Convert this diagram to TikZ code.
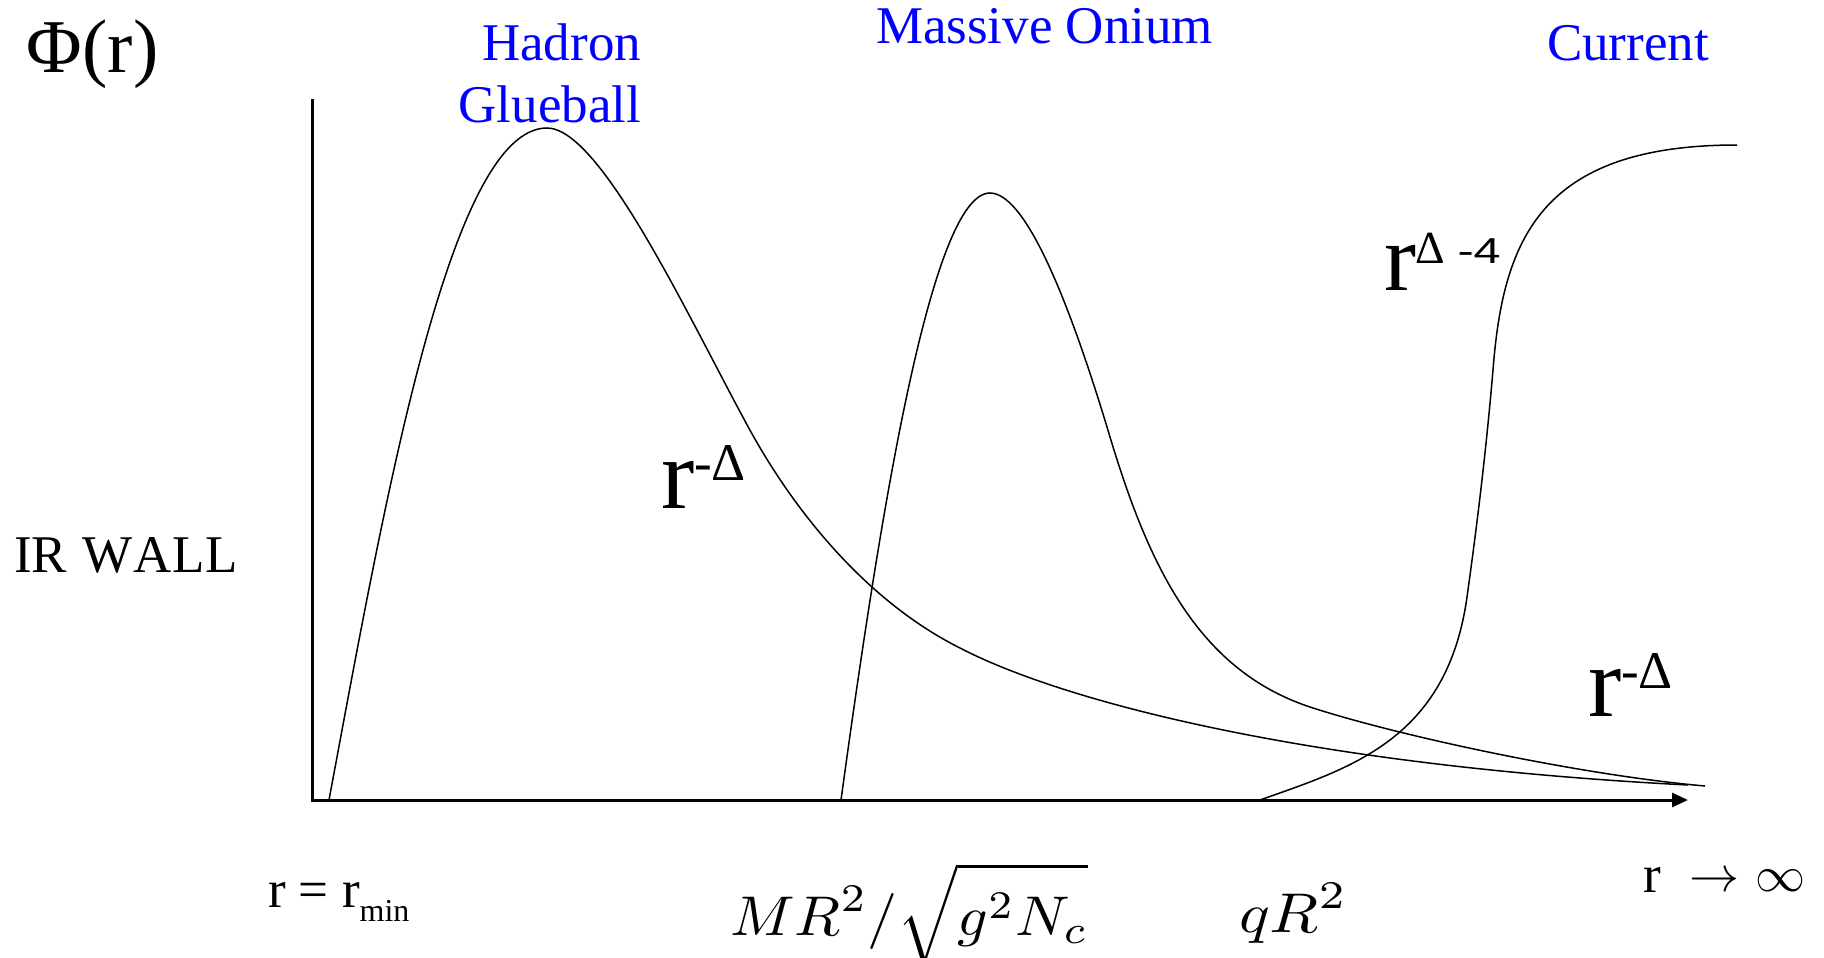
\documentclass[tikz,border=0pt]{standalone}
\usepackage[no-math]{fontspec}
\setmainfont{Liberation Serif}
\newfontfamily\sansfont{Liberation Sans}
\usepackage{graphicx}
\usetikzlibrary{arrows.meta}
\definecolor{labelblue}{RGB}{0,0,255}
\newcommand{\bigmath}[3]{{\fontsize{10}{12}\selectfont\scalebox{#1}[#2]{$#3$}}}
\tikzset{
  lbl/.style={inner sep=0pt, outer sep=0pt, anchor=base west, font=\fontsize{53}{62}\selectfont},
  lble/.style={lbl, anchor=base east},
  blue lbl/.style={lbl, text=labelblue},
  curve/.style={line width=1.5pt},
  axisline/.style={line width=3pt}
}
\begin{document}
\begin{tikzpicture}[x=1pt,y=-1pt]
\useasboundingbox (0,0) rectangle (1824,958);
% axes
\coordinate (ytop) at (312,99);
\coordinate (origin) at (312,800);
\coordinate (xend) at (1688,800);
\draw[axisline, -{Triangle[length=16pt,width=14pt]}] (ytop) -- (origin) -- (xend);
% hadron / glueball curve
\draw[curve] (329,800) .. controls (385,500) and (450,128) .. (547,128)
  .. controls (600,128) and (686,312) .. (745,421)
  .. controls (795,515) and (870,603) .. (960,648)
  .. controls (1060,700) and (1300,765) .. (1688,785);
% massive onium curve
\draw[curve] (841,800) .. controls (878,530) and (930,193) .. (990,193)
  .. controls (1030,193) and (1078,330) .. (1110,437)
  .. controls (1150,570) and (1200,672) .. (1313,708)
  .. controls (1400,736) and (1580,775) .. (1705,786);
% current curve
\draw[curve] (1260,800) .. controls (1350,768) and (1447,740) .. (1467,597)
  .. controls (1479,511) and (1487,440) .. (1493,370)
  .. controls (1503,240) and (1540,145) .. (1737,145);
% labels
\node[lbl] (phi) at (27,73) {\fontsize{76}{76}\selectfont Φ(r)};
\node[lble, text=labelblue] (hadron) at (641,60) {Hadron};
\node[lble, text=labelblue] (glueball) at (641,122) {Glueball};
\node[blue lbl] (onium) at (876,44) {Massive Onium};
\node[blue lbl] (current) at (1547,60) {Current};
\node[lbl] (irwall) at (14,572) {IR\hspace{2pt} W\hspace{1pt}A\hspace{1pt}L\hspace{1pt}L};
\node[lbl] (rmin) at (268,907) {r = r\raisebox{-14pt}{\fontsize{32}{32}\selectfont min}};
\node[lbl] (rinf) at (1643,892) {r};
\node[lbl] (arrow) at (1689,891) {\bigmath{5.0}{5.0}{\rightarrow}};
\node[lbl] (inf) at (1755,891) {\bigmath{5.0}{5.0}{\infty}};
\node[lbl] (mr) at (730,935) {\bigmath{6.0}{5.6}{\displaystyle MR^2/\sqrt{\vphantom{\big|}g^2N_c}}};
\node[lbl] (qr) at (1239,932) {\bigmath{6.4}{5.6}{\displaystyle qR^2}};
\node[lbl] (rdelta1) at (661,508) {\fontsize{100}{100}\selectfont r\raisebox{28pt}{\fontsize{53}{53}\selectfont -Δ}};
\node[lbl] (rdelta2) at (1588,716) {\fontsize{100}{100}\selectfont r\raisebox{28pt}{\fontsize{53}{53}\selectfont -Δ}};
\node[lbl] (rdelta3) at (1384,290) {\fontsize{96}{96}\selectfont r\raisebox{27pt}{\fontsize{46}{46}\selectfont Δ\hspace{12pt}\sansfont\fontsize{36}{36}\selectfont\scalebox{1.35}[1]{-4}}};
\end{tikzpicture}
\end{document}
